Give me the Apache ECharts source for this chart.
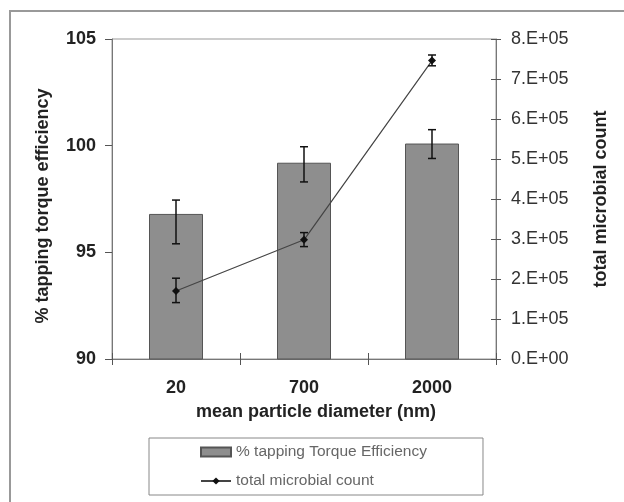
<!DOCTYPE html>
<html>
<head>
<meta charset="utf-8">
<script src="https://cdn.jsdelivr.net/npm/echarts@6/dist/echarts.min.js"></script>
<style>
  html, body { margin: 0; background: #fff; }
  #chart { width: 624px; height: 502px; }
</style>
</head>
<body>
<div id="chart"></div>
<script>
// chart data
const categories = ['20', '700', '2000'];
const efficiency = [96.8, 99.2, 100.1];
const efficiencyLow = [95.4, 98.3, 99.4];
const efficiencyHigh = [97.45, 99.95, 100.75];
const microbialCount = [170000, 298000, 746000];
const countLow = [141000, 281000, 733000];
const countHigh = [202000, 316000, 760000];
const countTickLabels = ['0.E+00', '1.E+05', '2.E+05', '3.E+05', '4.E+05', '5.E+05', '6.E+05', '7.E+05', '8.E+05'];

const FONT = "'Liberation Sans', Arial, sans-serif";

// error bars as a custom series
function errorBars(yAxisIndex, low, high) {
  return {
    type: 'custom',
    yAxisIndex: yAxisIndex,
    silent: true,
    z: 10,
    data: categories.map((c, i) => [i, low[i], high[i]]),
    renderItem(params, api) {
      const top = api.coord([api.value(0), api.value(2)]);
      const bot = api.coord([api.value(0), api.value(1)]);
      const half = 4;
      const style = { stroke: '#111', lineWidth: 1.5 };
      return {
        type: 'group',
        children: [
          { type: 'line', shape: { x1: top[0], y1: top[1], x2: bot[0], y2: bot[1] }, style: style },
          { type: 'line', shape: { x1: top[0] - half, y1: top[1], x2: top[0] + half, y2: top[1] }, style: style },
          { type: 'line', shape: { x1: bot[0] - half, y1: bot[1], x2: bot[0] + half, y2: bot[1] }, style: style }
        ]
      };
    }
  };
}

const chart = echarts.init(document.getElementById('chart'));

chart.setOption({
  backgroundColor: '#fff',
  animation: false,
  textStyle: { fontFamily: FONT },
  graphic: [{
    type: 'rect',
    shape: { x: 10, y: 11, width: 700, height: 600 },
    style: { fill: 'none', stroke: '#999', lineWidth: 2 },
    silent: true
  }],
  grid: {
    left: 112, right: 128, top: 39, bottom: 143,
    show: true, borderColor: '#999', borderWidth: 1, backgroundColor: 'transparent'
  },
  legend: {
    left: 149, top: 438,
    orient: 'vertical',
    data: [
      { name: '% tapping Torque Efficiency', icon: 'rect' },
      { name: 'total microbial count' }
    ],
    borderColor: '#888', borderWidth: 1,
    padding: [6, 56, 6, 51],
    itemGap: 13,
    itemWidth: 30, itemHeight: 9,
    textStyle: { fontFamily: FONT, fontSize: 15.5, color: '#666' }
  },
  xAxis: [{
    type: 'category',
    data: categories,
    position: 'bottom',
    axisLine: { lineStyle: { color: '#777', width: 1 } },
    axisTick: { show: true, length: 6, lineStyle: { color: '#555' } },
    axisLabel: { margin: 20, fontSize: 18, fontWeight: 'bold', color: '#222', fontFamily: FONT },
    name: 'mean particle diameter (nm)',
    nameLocation: 'middle',
    nameGap: 44,
    nameTextStyle: { fontSize: 18, fontWeight: 'bold', color: '#222', fontFamily: FONT, padding: [0, 0, 0, 24] }
  }, {
    type: 'category',
    data: categories,
    position: 'bottom',
    axisLine: { show: false },
    axisTick: { show: true, inside: true, length: 6, lineStyle: { color: '#555' } },
    axisLabel: { show: false }
  }],
  yAxis: [{
    type: 'value',
    min: 90, max: 105, interval: 5,
    position: 'left',
    axisLine: { show: true, lineStyle: { color: '#777' } },
    axisTick: { show: true, length: 7, lineStyle: { color: '#555' } },
    splitLine: { show: false },
    axisLabel: { margin: 16, fontSize: 18, fontWeight: 'bold', color: '#222', fontFamily: FONT },
    name: '% tapping torque efficiency',
    nameLocation: 'middle',
    nameGap: 60,
    nameRotate: 90,
    nameTextStyle: { fontSize: 18, fontWeight: 'bold', color: '#222', fontFamily: FONT, padding: [0, 14, 0, 0] }
  }, {
    type: 'value',
    min: 0, max: 800000, interval: 100000,
    position: 'right',
    axisLine: { show: true, lineStyle: { color: '#777' } },
    axisTick: { show: true, length: 5, lineStyle: { color: '#555' } },
    splitLine: { show: false },
    axisLabel: {
      margin: 15, fontSize: 18, color: '#333', fontFamily: FONT,
      formatter: v => countTickLabels[Math.round(v / 100000)]
    },
    name: 'total microbial count',
    nameLocation: 'middle',
    nameGap: 96,
    nameRotate: 90,
    nameTextStyle: { fontSize: 18, fontWeight: 'bold', color: '#222', fontFamily: FONT }
  }, {
    type: 'value',
    min: 0, max: 800000, interval: 100000,
    position: 'right',
    axisLine: { show: false },
    axisTick: { show: true, inside: true, length: 5, lineStyle: { color: '#555' } },
    splitLine: { show: false },
    axisLabel: { show: false }
  }],
  series: [{
    name: '% tapping Torque Efficiency',
    type: 'bar',
    yAxisIndex: 0,
    data: efficiency,
    barWidth: 54,
    itemStyle: { color: '#8e8e8e', borderColor: '#555', borderWidth: 1 }
  }, {
    name: 'total microbial count',
    type: 'line',
    yAxisIndex: 1,
    data: microbialCount,
    symbol: 'diamond',
    symbolSize: 8,
    z: 5,
    lineStyle: { color: '#444', width: 1.2 },
    itemStyle: { color: '#111' }
  },
  errorBars(0, efficiencyLow, efficiencyHigh),
  errorBars(1, countLow, countHigh)]
});
</script>
</body>
</html>
